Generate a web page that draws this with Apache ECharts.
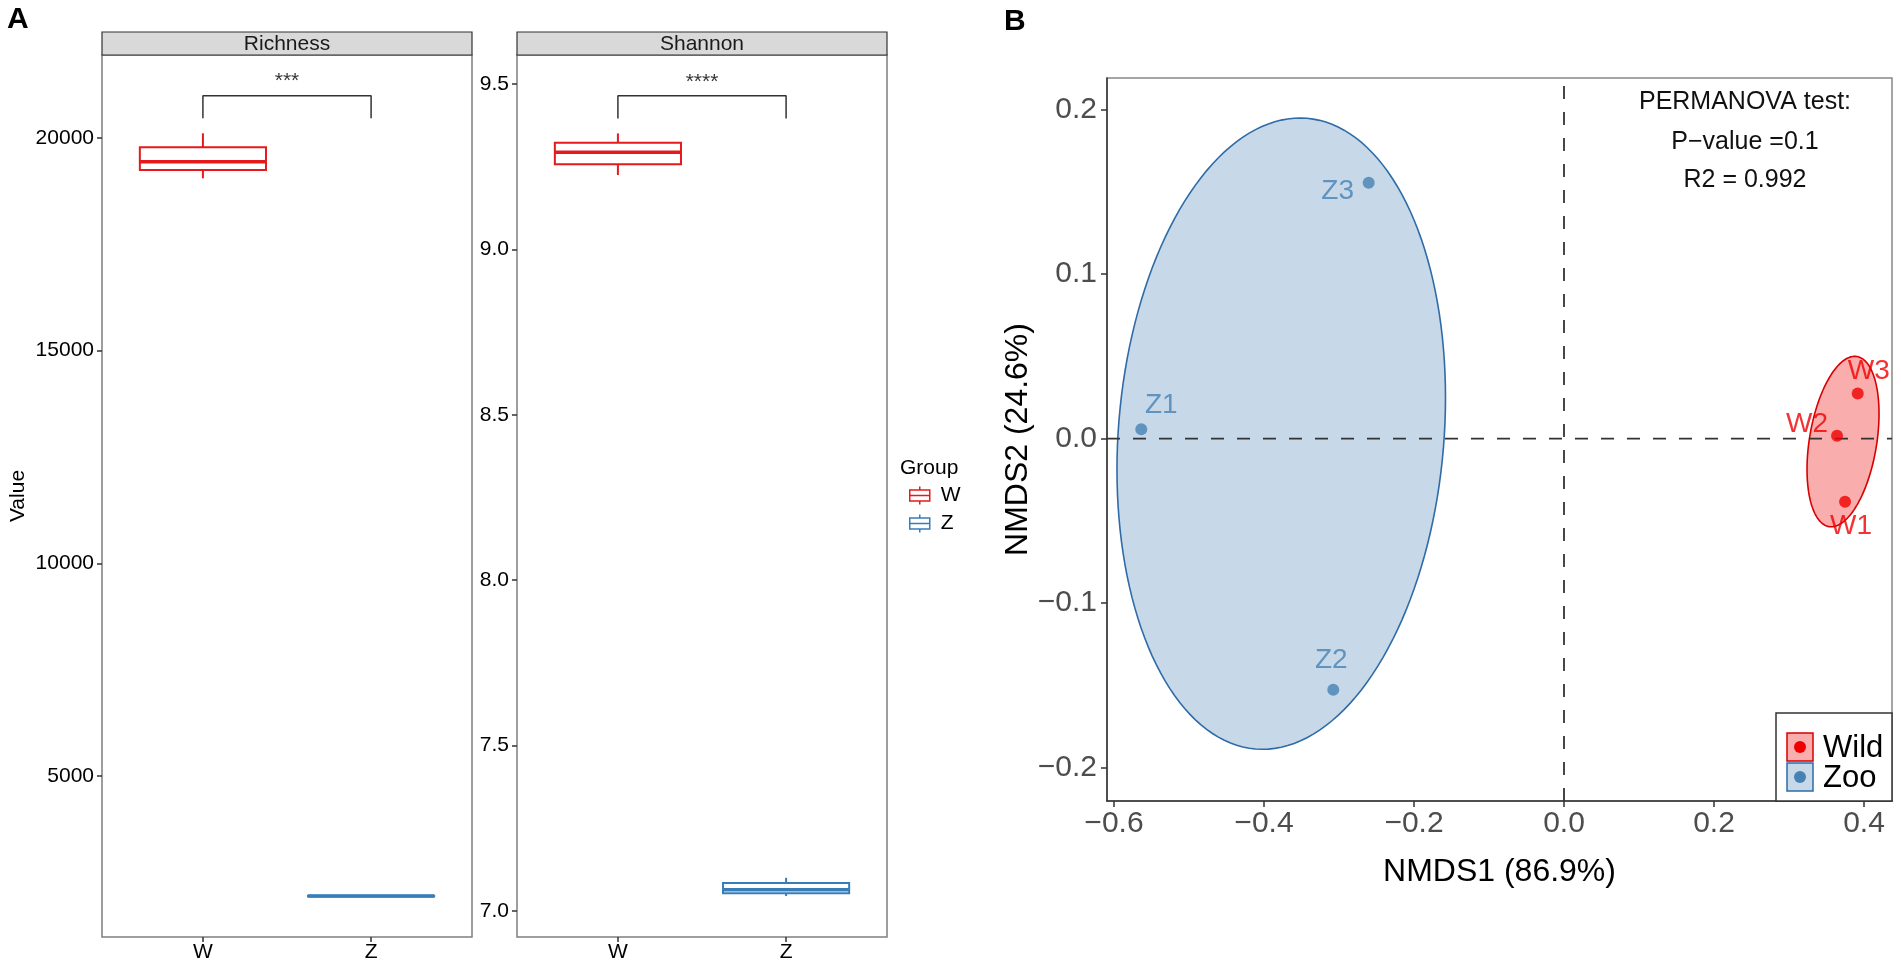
<!DOCTYPE html>
<html>
<head>
<meta charset="utf-8">
<title>Alpha diversity and NMDS</title>
<script src="https://cdn.jsdelivr.net/npm/echarts@6/dist/echarts.min.js"></script>
<style>
  html, body { margin: 0; padding: 0; background: #fff; }
  #chart { width: 1901px; height: 966px; }
</style>
</head>
<body>
<div id="chart"></div>
<script>
// panel A: box stats per group, [lower whisker, q1, median, q3, upper whisker]
const groups = ["W", "Z"];
const richnessW = [19052, 19248, 19443, 19781, 20110];
const richnessZ = [2160, 2170, 2178, 2186, 2195];
const shannonW = [9.225, 9.258, 9.294, 9.323, 9.351];
const shannonZ = [7.045, 7.053, 7.064, 7.084, 7.100];
const richnessTicks = [5000, 10000, 15000, 20000];
const shannonTicks = [7.0, 7.5, 8.0, 8.5, 9.0, 9.5];
// significance bracket [tip, bar, label]
const richnessBracket = [20463, 20994, 21340];
const shannonBracket = [9.396, 9.465, 9.5046];
const richnessSig = "***";
const shannonSig = "****";

// panel B: NMDS scores
const wildNames = ["W1", "W2", "W3"];
const wildX = [0.3747, 0.364, 0.3916];
const wildY = [-0.0384, 0.0018, 0.0274];
const zooNames = ["Z1", "Z2", "Z3"];
const zooX = [-0.5636, -0.3076, -0.2604];
const zooY = [0.0057, -0.1528, 0.1556];
// ellipse: centre x, centre y, shape terms l11, l21, l22
const wildEllipse = [0.372, -0.0018, 0.048, 0.0169, 0.049];
const zooEllipse = [-0.377, 0.003, 0.219, 0.0219, 0.1907];
const nmdsXTicks = [-0.6, -0.4, -0.2, 0.0, 0.2, 0.4];
const nmdsYTicks = [-0.2, -0.1, 0.0, 0.1, 0.2];
const permanova = ["PERMANOVA test:", "P\u2212value =0.1", "R2 = 0.992"];

const FONT = "Liberation Sans, Arial, sans-serif";
const wCol = "#E41A1C", zCol = "#377EB8";
const wildCol = "#F00000", zooCol = "#4682B4";
const nmdsX = [-0.6093, 0.4373], nmdsY = [-0.2204, 0.2193];

// where each point label sits relative to its point (px)
const labelOffsets = { W1: [6, 25], W2: [-30, -11], W3: [11, -22], Z1: [20, -24], Z2: [-2, -30], Z3: [-31, 9] };

const minus = v => (v < 0 ? "\u2212" + Math.abs(v).toFixed(1) : v.toFixed(1));
const boxIcon = "path://M10,0L10,3.5M0,3.5L20,3.5L20,14.5L0,14.5ZM0,9L20,9M10,14.5L10,18";

function boxRender(color) {
  return function (params, api) {
    const x = api.value(0), half = 0.375;
    const lo = api.value(1), q1 = api.value(2), med = api.value(3), q3 = api.value(4), hi = api.value(5);
    const tl = api.coord([x - half, q3]), br = api.coord([x + half, q1]);
    const top = api.coord([x, hi]), bot = api.coord([x, lo]);
    const a = api.coord([x, q3]), b = api.coord([x, q1]);
    const mL = api.coord([x - half, med]), mR = api.coord([x + half, med]);
    const st = { stroke: color, lineWidth: 2 };
    return {
      type: "group",
      children: [
        { type: "line", shape: { x1: top[0], y1: top[1], x2: a[0], y2: a[1] }, style: st },
        { type: "line", shape: { x1: b[0], y1: b[1], x2: bot[0], y2: bot[1] }, style: st },
        { type: "rect", shape: { x: tl[0], y: tl[1], width: br[0] - tl[0], height: br[1] - tl[1] },
          style: { stroke: color, lineWidth: 2, fill: "#fff" } },
        { type: "line", shape: { x1: mL[0], y1: mL[1], x2: mR[0], y2: mR[1] }, style: { stroke: color, lineWidth: 3.5 } }
      ]
    };
  };
}

function ellipseRender(fill, stroke) {
  return function (params, api) {
    const cx = api.value(0), cy = api.value(1), l11 = api.value(2), l21 = api.value(3), l22 = api.value(4);
    const pts = [];
    for (let i = 0; i < 160; i++) {
      const t = (i / 160) * Math.PI * 2;
      pts.push(api.coord([cx + l11 * Math.cos(t), cy + l21 * Math.cos(t) + l22 * Math.sin(t)]));
    }
    return { type: "polygon", shape: { points: pts }, style: { fill: fill, stroke: stroke, lineWidth: 1.6 } };
  };
}

function boxSeries(name, stats, gi, color) {
  return {
    name: name, type: "custom", xAxisIndex: gi, yAxisIndex: gi,
    renderItem: boxRender(color), encode: { x: 0, y: [1, 2, 3, 4, 5] },
    data: [[groups.indexOf(name) + 1].concat(stats)], silent: true
  };
}

function bracketSeries(gi, br, sig) {
  return [
    { type: "line", xAxisIndex: gi, yAxisIndex: gi, symbol: "none", silent: true,
      lineStyle: { color: "#333", width: 1.5 },
      data: [[1, br[0]], [1, br[1]], [2, br[1]], [2, br[0]]] },
    { type: "scatter", xAxisIndex: gi, yAxisIndex: gi, symbolSize: 0, silent: true,
      label: { show: true, position: "inside", formatter: sig, fontSize: 21, color: "#000", fontFamily: FONT },
      data: [[1.5, br[2]]] }
  ];
}

function pointData(xs, ys, names) {
  return xs.map((x, i) => ({ name: names[i], value: [x, ys[i]], label: { offset: labelOffsets[names[i]] } }));
}

function axisA(gi, min, max, ticks, fmt, name) {
  return {
    gridIndex: gi, type: "value", min: min, max: max,
    name: name || "", nameLocation: "middle", nameGap: 73,
    nameTextStyle: { fontSize: 21, color: "#000", fontFamily: FONT },
    axisLine: { show: false, onZero: false },
    axisTick: { show: true, length: 5, customValues: ticks, lineStyle: { color: "#333", width: 1.5 } },
    axisLabel: { customValues: ticks, formatter: fmt, fontSize: 21, color: "#000", margin: 8, fontFamily: FONT },
    splitLine: { show: false }
  };
}

function xAxisA(gi) {
  return {
    gridIndex: gi, type: "value", min: 0.4, max: 2.6,
    axisLine: { show: false, onZero: false },
    axisTick: { show: true, length: 5, customValues: [1, 2], lineStyle: { color: "#333", width: 1.5 } },
    axisLabel: { customValues: [1, 2], formatter: v => groups[Math.round(v) - 1], fontSize: 21, color: "#000", margin: 5, fontFamily: FONT },
    splitLine: { show: false }
  };
}

const chart = echarts.init(document.getElementById("chart"), null, { renderer: "canvas" });

const option = {
  backgroundColor: "#fff",
  animation: false,
  textStyle: { fontFamily: FONT },
  grid: [
    { left: 102, top: 55, width: 370, height: 882, show: true, borderColor: "#7f7f7f", borderWidth: 1.5 },
    { left: 517, top: 55, width: 370, height: 882, show: true, borderColor: "#7f7f7f", borderWidth: 1.5 },
    { left: 1107, top: 78, width: 785, height: 723, show: true, borderColor: "#888", borderWidth: 1.5 }
  ],
  xAxis: [
    xAxisA(0),
    xAxisA(1),
    {
      gridIndex: 2, type: "value", min: nmdsX[0], max: nmdsX[1],
      name: "NMDS1 (86.9%)", nameLocation: "middle", nameGap: 55,
      nameTextStyle: { fontSize: 32, color: "#000", fontFamily: FONT },
      axisLine: { show: true, onZero: false, lineStyle: { color: "#333", width: 1.5 } },
      axisTick: { show: true, length: 6, customValues: nmdsXTicks, lineStyle: { color: "#333", width: 1.5 } },
      axisLabel: { customValues: nmdsXTicks, formatter: minus, fontSize: 30, color: "#4d4d4d", margin: 8, fontFamily: FONT },
      splitLine: { show: false }
    }
  ],
  yAxis: [
    axisA(0, 1215, 21951, richnessTicks, v => String(v), "Value"),
    axisA(1, 6.921, 9.588, shannonTicks, v => v.toFixed(1)),
    {
      gridIndex: 2, type: "value", min: nmdsY[0], max: nmdsY[1],
      name: "NMDS2 (24.6%)", nameLocation: "middle", nameGap: 52,
      nameTextStyle: { fontSize: 32, color: "#000", fontFamily: FONT },
      axisLine: { show: true, onZero: false, lineStyle: { color: "#333", width: 1.5 } },
      axisTick: { show: true, length: 6, customValues: nmdsYTicks, lineStyle: { color: "#333", width: 1.5 } },
      axisLabel: { customValues: nmdsYTicks, formatter: minus, fontSize: 30, color: "#4d4d4d", margin: 10, fontFamily: FONT },
      splitLine: { show: false }
    }
  ],
  legend: {
    orient: "vertical", left: 909, top: 485, padding: 0,
    itemWidth: 20, itemHeight: 18, itemGap: 7, selectedMode: false,
    textStyle: { fontSize: 21, color: "#000", fontFamily: FONT, padding: [0, 0, 0, 6] },
    data: [
      { name: "W", icon: boxIcon, itemStyle: { color: "rgba(0,0,0,0)", borderColor: wCol, borderWidth: 1.5 } },
      { name: "Z", icon: boxIcon, itemStyle: { color: "rgba(0,0,0,0)", borderColor: zCol, borderWidth: 1.5 } }
    ]
  },
  series: [
    boxSeries("W", richnessW, 0, wCol),
    boxSeries("Z", richnessZ, 0, zCol),
    boxSeries("W", shannonW, 1, wCol),
    boxSeries("Z", shannonZ, 1, zCol),
    ...bracketSeries(0, richnessBracket, richnessSig),
    ...bracketSeries(1, shannonBracket, shannonSig),
    {
      name: "Zoo ellipse", type: "custom", xAxisIndex: 2, yAxisIndex: 2, z: 1, silent: true,
      renderItem: ellipseRender("rgba(70,130,180,0.3)", "#2F6BA8"), encode: { x: 0, y: 1 },
      data: [zooEllipse]
    },
    {
      name: "Wild ellipse", type: "custom", xAxisIndex: 2, yAxisIndex: 2, z: 1, silent: true,
      renderItem: ellipseRender("rgba(235,0,0,0.32)", "#D80000"), encode: { x: 0, y: 1 },
      data: [wildEllipse]
    },
    {
      type: "line", xAxisIndex: 2, yAxisIndex: 2, z: 2, symbol: "none", silent: true,
      lineStyle: { color: "#333", width: 1.8, type: [13, 13] },
      data: [[0, nmdsY[0]], [0, nmdsY[1]]]
    },
    {
      type: "line", xAxisIndex: 2, yAxisIndex: 2, z: 2, symbol: "none", silent: true,
      lineStyle: { color: "#333", width: 1.8, type: [13, 13] },
      data: [[nmdsX[0], 0], [nmdsX[1], 0]]
    },
    {
      name: "Wild", type: "scatter", xAxisIndex: 2, yAxisIndex: 2, z: 5, symbolSize: 12,
      itemStyle: { color: wildCol },
      label: { show: true, position: "inside", formatter: "{b}", fontSize: 28, color: wildCol, fontFamily: FONT },
      data: pointData(wildX, wildY, wildNames)
    },
    {
      name: "Zoo", type: "scatter", xAxisIndex: 2, yAxisIndex: 2, z: 5, symbolSize: 12,
      itemStyle: { color: zooCol },
      label: { show: true, position: "inside", formatter: "{b}", fontSize: 28, color: zooCol, fontFamily: FONT },
      data: pointData(zooX, zooY, zooNames)
    }
  ],
  graphic: [
    { type: "text", left: 7, top: 5, style: { text: "A", font: "bold 30px " + FONT, fill: "#000" } },
    { type: "text", left: 1004, top: 7, style: { text: "B", font: "bold 30px " + FONT, fill: "#000" } },
    // facet strips
    { type: "rect", shape: { x: 102, y: 32, width: 370, height: 23 }, style: { fill: "#D9D9D9", stroke: "#333", lineWidth: 1.2 } },
    { type: "text", x: 287, y: 44, style: { text: "Richness", font: "21px " + FONT, fill: "#1a1a1a", align: "center", verticalAlign: "middle" } },
    { type: "rect", shape: { x: 517, y: 32, width: 370, height: 23 }, style: { fill: "#D9D9D9", stroke: "#333", lineWidth: 1.2 } },
    { type: "text", x: 702, y: 44, style: { text: "Shannon", font: "21px " + FONT, fill: "#1a1a1a", align: "center", verticalAlign: "middle" } },
    { type: "text", x: 900, y: 468, style: { text: "Group", font: "21px " + FONT, fill: "#000", verticalAlign: "middle" } },
    // PERMANOVA note
    { type: "text", x: 1745, y: 102, style: { text: permanova[0], font: "25px " + FONT, fill: "#111", align: "center", verticalAlign: "middle" } },
    { type: "text", x: 1745, y: 142, style: { text: permanova[1], font: "25px " + FONT, fill: "#111", align: "center", verticalAlign: "middle" } },
    { type: "text", x: 1745, y: 180, style: { text: permanova[2], font: "25px " + FONT, fill: "#111", align: "center", verticalAlign: "middle" } },
    // NMDS legend
    { type: "rect", z: 10, shape: { x: 1776, y: 713, width: 116, height: 88 }, style: { fill: "#fff", stroke: "#333", lineWidth: 1.5 } },
    { type: "rect", z: 11, shape: { x: 1787, y: 733, width: 26, height: 28 }, style: { fill: "rgba(235,0,0,0.32)", stroke: "#D80000", lineWidth: 1.5 } },
    { type: "circle", z: 12, shape: { cx: 1800, cy: 747, r: 6 }, style: { fill: wildCol } },
    { type: "rect", z: 11, shape: { x: 1787, y: 763, width: 26, height: 28 }, style: { fill: "rgba(70,130,180,0.3)", stroke: "#2F6BA8", lineWidth: 1.5 } },
    { type: "circle", z: 12, shape: { cx: 1800, cy: 777, r: 6 }, style: { fill: zooCol } },
    { type: "text", z: 12, x: 1823, y: 748, style: { text: "Wild", font: "31px " + FONT, fill: "#000", verticalAlign: "middle" } },
    { type: "text", z: 12, x: 1823, y: 778, style: { text: "Zoo", font: "31px " + FONT, fill: "#000", verticalAlign: "middle" } }
  ]
};

chart.setOption(option);
</script>
</body>
</html>
